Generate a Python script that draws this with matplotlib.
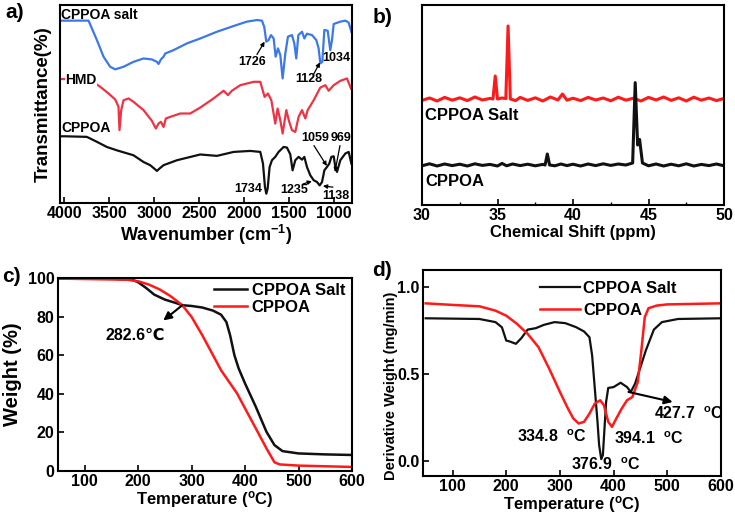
import matplotlib
matplotlib.use("Agg")
import matplotlib.pyplot as plt
from matplotlib.ticker import MultipleLocator

plt.rcParams['font.family'] = ['Liberation Sans', 'DejaVu Sans']
plt.rcParams['font.weight'] = 'bold'
plt.rcParams['mathtext.fontset'] = 'custom'
plt.rcParams['mathtext.rm'] = 'Liberation Sans:bold'
plt.rcParams['mathtext.default'] = 'rm'

# ---------------- Panel a: FTIR ----------------
ftir_salt_w = [4050, 4000, 3732, 3639, 3565, 3491, 3435, 3342, 3231, 3119, 3026, 2970, 2952, 2926, 2896, 2877,
               2785, 2636, 2487, 2301, 2115, 1967, 1855, 1800, 1774, 1751, 1725, 1699, 1669, 1647, 1621, 1595,
               1569, 1539, 1510, 1465, 1439, 1417, 1394, 1353, 1327, 1298, 1242, 1194, 1168, 1149, 1127, 1104,
               1067, 1038, 1019, 1000, 926, 870, 833, 803]
ftir_salt_t = [92.1, 92.1, 92.1, 82.3, 73.9, 68.8, 67.5, 68.8, 71.3, 73.0, 72.5, 71.3, 70.2, 72.5, 73.9, 75.5,
               77.2, 80.6, 83.1, 86.5, 89.4, 91.6, 92.4, 92.1, 89.0, 81.5, 82.3, 84.8, 83.1, 73.9, 78.1, 74.7,
               62.9, 75.5, 84.0, 84.8, 80.6, 73.0, 84.8, 86.5, 83.1, 85.5, 84.8, 82.3, 78.1, 70.5, 71.3, 87.4,
               87.0, 77.2, 82.3, 90.4, 91.6, 92.1, 91.1, 86.5]
ftir_hmd_w = [4050, 4000, 3714, 3602, 3509, 3435, 3398, 3387, 3368, 3342, 3286, 3231, 3119, 3026, 2982, 2952,
              2926, 2896, 2870, 2822, 2710, 2599, 2487, 2339, 2227, 2179, 2134, 2041, 1892, 1818, 1770, 1733,
              1695, 1651, 1625, 1595, 1569, 1528, 1499, 1465, 1428, 1391, 1353, 1316, 1290, 1223, 1149, 1093,
              1056, 1000, 926, 852, 807]
ftir_hmd_t = [62.6, 62.6, 62.1, 58.7, 55.3, 52.3, 48.6, 36.8, 46.9, 51.9, 52.8, 51.1, 46.9, 41.5, 37.6, 40.1,
              41.0, 38.4, 42.7, 43.5, 45.2, 45.2, 48.2, 52.8, 56.7, 54.5, 56.7, 59.5, 61.2, 61.2, 53.6, 55.3,
              51.9, 40.1, 47.7, 41.8, 35.1, 46.9, 41.5, 36.8, 35.9, 43.5, 46.9, 42.7, 46.9, 51.9, 58.3, 59.5,
              56.7, 59.5, 61.7, 62.9, 57.8]
ftir_cppoa_w = [4050, 4000, 3751, 3639, 3528, 3416, 3231, 3119, 3045, 3000, 2970, 2941, 2896, 2747, 2487, 2301,
                2115, 1930, 1818, 1788, 1766, 1751, 1736, 1714, 1688, 1651, 1614, 1558, 1521, 1484, 1458, 1428,
                1391, 1353, 1327, 1298, 1261, 1223, 1186, 1156, 1130, 1104, 1075, 1049, 1026, 1000, 982, 963,
                926, 870, 833, 803]
ftir_cppoa_t = [33.7, 33.7, 33.4, 30.9, 28.3, 26.6, 24.1, 20.7, 19.1, 17.4, 16.2, 17.4, 19.1, 21.6, 24.5, 23.8,
                25.8, 26.3, 25.8, 19.9, 8.1, 4.7, 7.3, 18.2, 21.6, 23.3, 25.8, 28.3, 28.0, 24.6, 16.5, 21.6,
                23.3, 21.9, 23.3, 18.2, 14.0, 11.5, 10.6, 8.9, 10.6, 16.5, 18.2, 19.9, 23.3, 23.6, 18.2, 15.7,
                21.6, 25.0, 25.8, 19.9]
ftir_ticks = [4000, 3500, 3000, 2500, 2000, 1500, 1000]

# ---------------- Panel b: 31P NMR ----------------
nmr_salt_ppm = [30, 30.5, 31, 31.5, 32, 32.5, 33, 33.5, 34, 34.5, 34.7, 34.85, 35.0, 35.3, 35.55, 35.7, 35.85,
                36.2, 36.5, 37, 37.5, 38, 38.5, 39, 39.3, 39.6, 40, 40.5, 41, 41.5, 42, 42.5, 43, 43.5, 44, 44.5,
                45, 45.5, 46, 46.5, 47, 47.5, 48, 48.5, 49, 49.5, 50]
nmr_salt_i = [52.3, 53.5, 52.0, 53.8, 52.4, 53.6, 52.2, 54.0, 52.5, 53.3, 53.0, 64.5, 53.0, 53.5, 53.2, 89.5, 53.0,
              52.2, 53.8, 52.3, 53.6, 52.0, 54.0, 52.5, 55.5, 52.4, 53.4, 52.2, 53.8, 52.5, 53.5, 52.1, 53.9, 52.4,
              53.4, 52.0, 53.8, 52.5, 54.0, 52.3, 53.6, 52.0, 53.9, 52.4, 53.5, 52.2, 53.3]
nmr_cppoa_ppm = [30, 30.5, 31, 31.5, 32, 32.5, 33, 33.5, 34, 34.5, 35, 35.3, 35.6, 36, 36.5, 37, 37.5, 38, 38.15,
                 38.3, 38.45, 38.8, 39.2, 39.6, 40, 40.5, 41, 41.5, 42, 42.5, 43, 43.5, 43.95, 44.12, 44.28, 44.41,
                 44.6, 45, 45.5, 46, 46.5, 47, 47.5, 48, 48.5, 49, 49.5, 50]
nmr_cppoa_i = [19.6, 20.6, 19.5, 20.5, 19.7, 20.4, 19.5, 20.6, 19.8, 20.3, 19.5, 20.8, 19.6, 20.5, 19.7, 20.4,
               19.6, 20.3, 20.0, 25.5, 20.0, 19.6, 20.5, 19.7, 20.4, 19.5, 20.5, 19.7, 20.6, 19.8, 20.5, 20.0,
               21.0, 61.2, 30.0, 32.8, 21.0, 19.6, 20.5, 19.5, 20.4, 19.6, 20.6, 19.5, 20.3, 19.7, 20.5, 19.6]
nmr_ticks = [30, 35, 40, 45, 50]

# ---------------- Panel c: TGA ----------------
tga_salt_T = [50, 150, 190, 200, 215, 230, 250, 270, 282.6, 300, 320, 340, 355, 365, 372, 380, 388, 400, 420,
              440, 455, 470, 500, 550, 600]
tga_salt_w = [99.7, 99.7, 99.0, 97.8, 94.8, 91.4, 88.8, 87.1, 85.9, 85.5, 84.7, 83.1, 81.0, 77.2, 70.3, 60.0,
              53.1, 45.3, 33.3, 20.3, 13.4, 10.3, 9.1, 8.6, 8.3]
tga_cppoa_T = [50, 180, 200, 220, 240, 260, 282.6, 300, 320, 340, 355, 370, 385, 400, 420, 440, 455, 465, 500,
               600]
tga_cppoa_w = [99.7, 99.1, 98.3, 96.6, 94.1, 90.7, 85.9, 79.8, 70.3, 60.0, 52.2, 46.2, 40.2, 32.4, 22.1, 11.7,
               4.5, 3.4, 2.8, 2.1]

# ---------------- Panel d: DTG ----------------
dtg_salt_T = [50, 150, 180, 192, 200, 207, 218, 228, 240, 255, 270, 290, 310, 330, 345, 355, 360, 365, 370, 373,
              377, 380, 383, 386, 390, 400, 413, 425, 432, 440, 450, 460, 475, 490, 520, 600]
dtg_salt_d = [0.822, 0.818, 0.80, 0.77, 0.694, 0.688, 0.675, 0.707, 0.757, 0.765, 0.784, 0.80, 0.794, 0.771,
              0.746, 0.713, 0.608, 0.417, 0.226, 0.092, 0.011, 0.034, 0.187, 0.340, 0.421, 0.426, 0.451, 0.426,
              0.398, 0.446, 0.541, 0.637, 0.757, 0.80, 0.818, 0.822]
dtg_cppoa_T = [50, 100, 150, 180, 200, 220, 240, 260, 280, 300, 315, 325, 335, 345, 355, 365, 375, 382, 390, 397,
               405, 415, 425, 435, 445, 452, 458, 465, 480, 500, 600]
dtg_cppoa_d = [0.908, 0.899, 0.891, 0.866, 0.837, 0.790, 0.732, 0.656, 0.532, 0.398, 0.302, 0.245, 0.216, 0.226,
               0.273, 0.331, 0.350, 0.321, 0.226, 0.197, 0.245, 0.302, 0.350, 0.369, 0.455, 0.646, 0.828, 0.880,
               0.895, 0.902, 0.908]

W, H = 735, 516
fig = plt.figure(figsize=(W / 100, H / 100), dpi=100)


def ax_at(x0, y0, x1, y1):
    return fig.add_axes([x0 / W, 1 - y1 / H, (x1 - x0) / W, (y1 - y0) / H])


def style(ax):
    for s in ax.spines.values():
        s.set_linewidth(1.5)
    ax.tick_params(direction='in', which='major', length=4, width=1.2, labelsize=11.5, pad=2.5)
    ax.tick_params(direction='in', which='minor', length=2.5, width=1.0)


# a
ax = ax_at(60, 5, 352, 203)
style(ax)
ax.plot(ftir_salt_w, ftir_salt_t, color='#3c78e8', lw=1.6)
ax.plot(ftir_hmd_w, ftir_hmd_t, color='#ee3344', lw=1.6)
ax.plot(ftir_cppoa_w, ftir_cppoa_t, color='#111111', lw=1.6)
ax.set_xlim(4050, 796)
ax.set_ylim(0, 100)
ax.set_xticks(ftir_ticks)
ax.set_yticks([])
ax.set_xlabel('Wavenumber (cm$^{-1}$)', fontsize=13, fontweight='bold', labelpad=1)
ax.set_ylabel('Transmittance(%)', fontsize=13.5, fontweight='bold', labelpad=6)
ax.text(4035, 95, 'CPPOA salt', fontsize=10, va='center', ha='left')
ax.text(3990, 62, 'HMD', fontsize=10, va='center', ha='left', zorder=5,
        bbox=dict(facecolor='white', edgecolor='none', pad=0.5))
ax.text(4030, 38, 'CPPOA', fontsize=10, va='center', ha='left')
fs = 9
ap = dict(arrowstyle='-|>', color='black', lw=0.9, mutation_scale=6, shrinkA=0, shrinkB=0)
ax.text(1911, 71.2, '1726', fontsize=fs, ha='center', va='center')
ax.annotate('', xy=(1770, 81.5), xytext=(1855, 75), arrowprops=ap)
ax.text(1276, 62.6, '1128', fontsize=fs, ha='center', va='center')
ax.annotate('', xy=(1153, 71), xytext=(1230, 64.5), arrowprops=ap)
ax.text(1131, 73.2, '1034', fontsize=fs, ha='left', va='center')
ax.text(1204, 32.8, '1059', fontsize=fs, ha='center', va='center')
ax.annotate('', xy=(1076, 18.7), xytext=(1220, 29), arrowprops=ap)
ax.text(920, 32.8, '969', fontsize=fs, ha='center', va='center')
ax.annotate('', xy=(986, 15.7), xytext=(930, 29), arrowprops=ap)
ax.text(1800, 7.1, '1734', fontsize=fs, ha='right', va='center')
ax.text(1443, 6.6, '1235', fontsize=fs, ha='center', va='center')
ax.annotate('', xy=(1243, 11), xytext=(1343, 9.6), arrowprops=ap)
ax.text(975, 3.5, '1138', fontsize=fs, ha='center', va='center')
ax.annotate('', xy=(1120, 8.6), xytext=(1009, 8), arrowprops=ap)
fig.text(5 / W, 1 - 13 / H, 'a)', fontsize=15, fontweight='bold', va='center')

# b
ax = ax_at(422, 5, 724, 205)
style(ax)
ax.plot(nmr_salt_ppm, nmr_salt_i, color='#ff1a1a', lw=2.2)
ax.plot(nmr_cppoa_ppm, nmr_cppoa_i, color='#111111', lw=2.2)
ax.set_xlim(30, 50)
ax.set_ylim(0, 100)
ax.set_xticks(nmr_ticks)
ax.xaxis.set_minor_locator(MultipleLocator(2.5))
ax.set_yticks([])
ax.set_xlabel('Chemical Shift (ppm)', fontsize=12, fontweight='bold', labelpad=1)
ax.text(30.2, 45, 'CPPOA Salt', fontsize=12, va='center', ha='left')
ax.text(30.2, 12, 'CPPOA', fontsize=12, va='center', ha='left')
fig.text(373 / W, 1 - 17 / H, 'b)', fontsize=15, fontweight='bold', va='center')

# c
ax = ax_at(58, 278, 352, 471)
style(ax)
ax.plot(tga_salt_T, tga_salt_w, color='#111111', lw=1.8, label='CPPOA Salt')
ax.plot(tga_cppoa_T, tga_cppoa_w, color='#ff1a1a', lw=1.8, label='CPPOA')
ax.set_xlim(50, 600)
ax.set_ylim(0, 100)
ax.set_xticks([100, 200, 300, 400, 500, 600])
ax.set_yticks([0, 20, 40, 60, 80, 100])
ax.set_xlabel('Temperature ($^{\\mathrm{o}}$C)', fontsize=12, fontweight='bold', labelpad=0)
ax.set_ylabel('Weight (%)', fontsize=14.5, fontweight='bold', labelpad=4)
ax.annotate('', xy=(247, 78), xytext=(282.6, 85.9),
            arrowprops=dict(arrowstyle='-|>', color='black', lw=1.5, mutation_scale=12, shrinkA=0, shrinkB=0))
ax.text(138, 70.5, '282.6\u2103', fontsize=11.5, va='center', ha='left')
ax.legend(loc='upper right', bbox_to_anchor=(1.0, 1.01), frameon=False, fontsize=12, handlelength=2.0,
          handletextpad=0.3, labelspacing=0.15, borderaxespad=0.0)
fig.text(2 / W, 1 - 277 / H, 'c)', fontsize=15, fontweight='bold', va='center')

# d
ax = ax_at(423, 270, 721, 476)
style(ax)
ax.plot(dtg_salt_T, dtg_salt_d, color='#111111', lw=1.6, label='CPPOA Salt')
ax.plot(dtg_cppoa_T, dtg_cppoa_d, color='#ff1a1a', lw=1.8, label='CPPOA')
ax.set_xlim(45, 600)
ax.set_ylim(-0.086, 1.1)
ax.set_xticks([100, 200, 300, 400, 500, 600])
ax.set_yticks([0.0, 0.5, 1.0])
ax.set_yticklabels(['0.0', '0.5', '1.0'])
ax.set_xlabel('Temperature ($^{\\mathrm{o}}$C)', fontsize=12, fontweight='bold', labelpad=0)
ax.set_ylabel('Derivative Weight (mg/min)', fontsize=10.5, fontweight='bold', labelpad=2)
ax.yaxis.set_label_coords(-0.085, 0.44)
dlab = '  $^{\\mathrm{o}}$C'
ax.text(220, 0.14, '334.8' + dlab, fontsize=11.5, va='center', ha='left')
ax.text(321, -0.02, '376.9' + dlab, fontsize=11.5, va='center', ha='left')
ax.text(401, 0.13, '394.1' + dlab, fontsize=11.5, va='center', ha='left')
ax.text(476, 0.27, '427.7' + dlab, fontsize=11.5, va='center', ha='left')
ax.annotate('', xy=(510, 0.34), xytext=(427.7, 0.398),
            arrowprops=dict(arrowstyle='-|>', color='black', lw=1.5, mutation_scale=12, shrinkA=0, shrinkB=0))
ax.legend(loc='upper left', bbox_to_anchor=(0.37, 0.98), frameon=False, fontsize=12, handlelength=2.4,
          handletextpad=0.2, labelspacing=0.45, borderaxespad=0.0)
fig.text(372 / W, 1 - 270 / H, 'd)', fontsize=15, fontweight='bold', va='center')

fig.savefig('out.png', dpi=100)
